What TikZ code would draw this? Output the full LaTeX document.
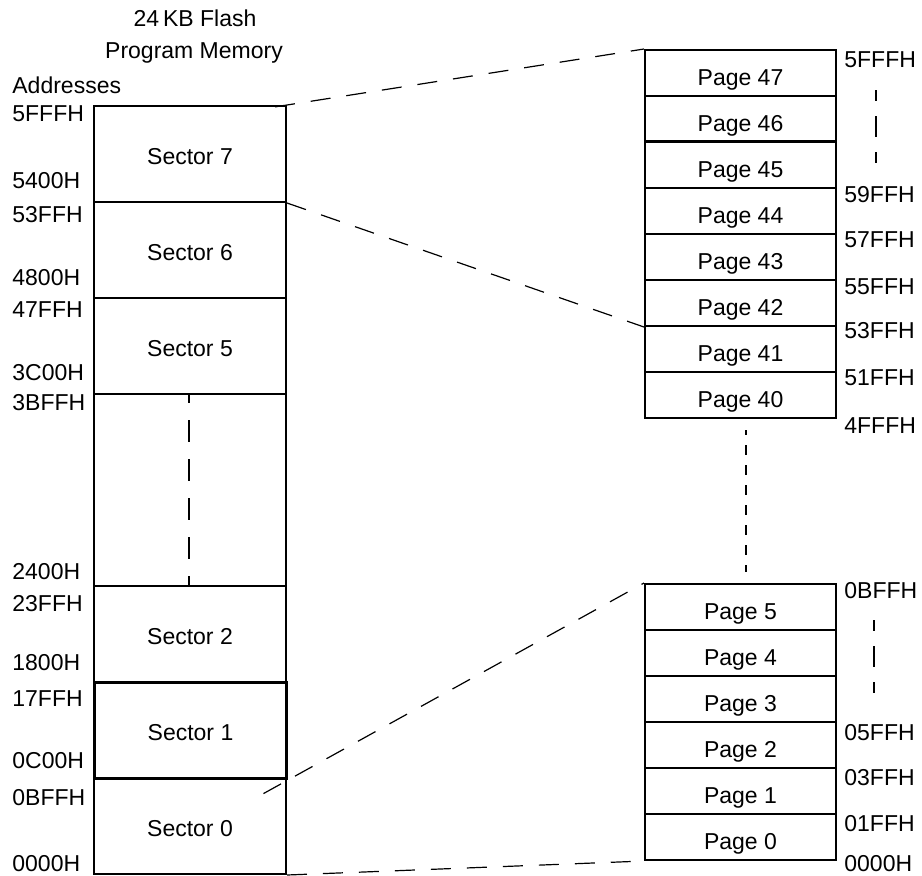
\documentclass[tikz,border=0pt]{standalone}
\usepackage{fontspec}
\setmainfont{Liberation Sans}
\begin{document}
\begin{tikzpicture}[x=0.5pt,y=-0.5pt,
  txt/.style={font=\fontsize{11.5}{13}\selectfont, inner sep=0pt, text height=8.2pt, text depth=0pt},
  addr/.style={txt, anchor=west},
  sectorbox/.style={draw, line width=1pt, minimum width=96pt, minimum height=48pt, anchor=north west,
    font=\fontsize{11.5}{13}\selectfont, inner sep=0pt, text height=10.2pt, text depth=0pt},
  pagebox/.style={draw, line width=1pt, minimum width=95.5pt, minimum height=23pt, anchor=north west,
    font=\fontsize{11.5}{13}\selectfont, inner sep=0pt, text height=12.2pt, text depth=0pt},
  conn/.style={line width=0.6pt, dash pattern=on 10pt off 8pt},
  vdash/.style={line width=1pt, dash pattern=on 10.5pt off 7.5pt, dash phase=5pt},
]
\useasboundingbox (0,0) rectangle (922,875);

% title
\node[txt] (t1) at (195,18) {24\,KB Flash};
\node[txt] (t2) at (194,50) {Program Memory};
\node[addr] (t3) at (12,85) {Addresses};

% sectors
\node[sectorbox] (s7) at (93,105) {Sector 7};
\node[sectorbox] (s6) at (93,201) {Sector 6};
\node[sectorbox] (s5) at (93,297) {Sector 5};
\node[sectorbox, minimum height=96pt] (sb) at (93,393) {};
\node[sectorbox] (s2) at (93,585) {Sector 2};
\node[sectorbox] (s0) at (93,777) {Sector 0};
\node[sectorbox, line width=1.5pt] (s1) at (93,681) {Sector 1};

% left addresses
\node[addr] (a1) at (12,113) {5FFFH};
\node[addr] (a2) at (12,180) {5400H};
\node[addr] (a3) at (12,214) {53FFH};
\node[addr] (a4) at (12,277) {4800H};
\node[addr] (a5) at (12,309) {47FFH};
\node[addr] (a6) at (12,372) {3C00H};
\node[addr] (a7) at (12,402) {3BFFH};
\node[addr] (a8) at (12,571) {2400H};
\node[addr] (a9) at (12,603) {23FFH};
\node[addr] (a10) at (12,662) {1800H};
\node[addr] (a11) at (12,698) {17FFH};
\node[addr] (a12) at (12,760) {0C00H};
\node[addr] (a13) at (12,797) {0BFFH};
\node[addr] (a14) at (12,863) {0000H};

% internal dashed line in blank region
\coordinate (ba) at (189,393);
\coordinate (bb) at (189,585);
\draw[line width=1pt, dash pattern=on 11pt off 8.5pt, dash phase=6pt] (ba) -- (bb);

% upper pages
\node[pagebox] (p47) at (644,49) {Page 47};
\node[pagebox] (p46) at (644,95) {Page 46};
\node[pagebox] (p45) at (644,141) {Page 45};
\node[pagebox] (p44) at (644,187) {Page 44};
\node[pagebox] (p43) at (644,233) {Page 43};
\node[pagebox] (p42) at (644,279) {Page 42};
\node[pagebox] (p41) at (644,325) {Page 41};
\node[pagebox] (p40) at (644,371) {Page 40};
\draw[line width=1.4pt] (p45.north west) -- (p45.north east);

% lower pages
\node[pagebox] (p5) at (644,583) {Page 5};
\node[pagebox] (p4) at (644,629) {Page 4};
\node[pagebox] (p3) at (644,675) {Page 3};
\node[pagebox] (p2) at (644,721) {Page 2};
\node[pagebox] (p1) at (644,767) {Page 1};
\node[pagebox] (p0) at (644,813) {Page 0};

% right addresses
\node[addr] (r1) at (844,59) {5FFFH};
\node[addr] (r2) at (844,194) {59FFH};
\node[addr] (r3) at (844,239) {57FFH};
\node[addr] (r4) at (844,286) {55FFH};
\node[addr] (r5) at (844,330) {53FFH};
\node[addr] (r6) at (844,377) {51FFH};
\node[addr] (r7) at (844,425) {4FFFH};
\node[addr] (r8) at (844,590) {0BFFH};
\node[addr] (r9) at (844,732) {05FFH};
\node[addr] (r10) at (844,777) {03FFH};
\node[addr] (r11) at (844,823) {01FFH};
\node[addr] (r12) at (844,863) {0000H};

% right vertical dashes
\coordinate (ra) at (876,90);
\coordinate (rb) at (876,163);
\draw[vdash] (ra) -- (rb);
\coordinate (rc) at (874,620);
\coordinate (rd) at (874,693);
\draw[vdash] (rc) -- (rd);

% middle dashed line between page groups
\coordinate (ma) at (746,430);
\coordinate (mb) at (746,572);
\draw[line width=1.2pt, dash pattern=on 5pt off 5pt, dash phase=2.5pt] (ma) -- (mb);

% connectors
\draw[conn, shorten <=-6pt] (s7.north east) -- (p47.north west);
\draw[conn] (s7.south east) -- (p42.south west);
\draw[conn, shorten <=-14pt] (s1.south east) -- (p5.north west);
\draw[conn] (s0.south east) -- (p0.south west);
\end{tikzpicture}
\end{document}
